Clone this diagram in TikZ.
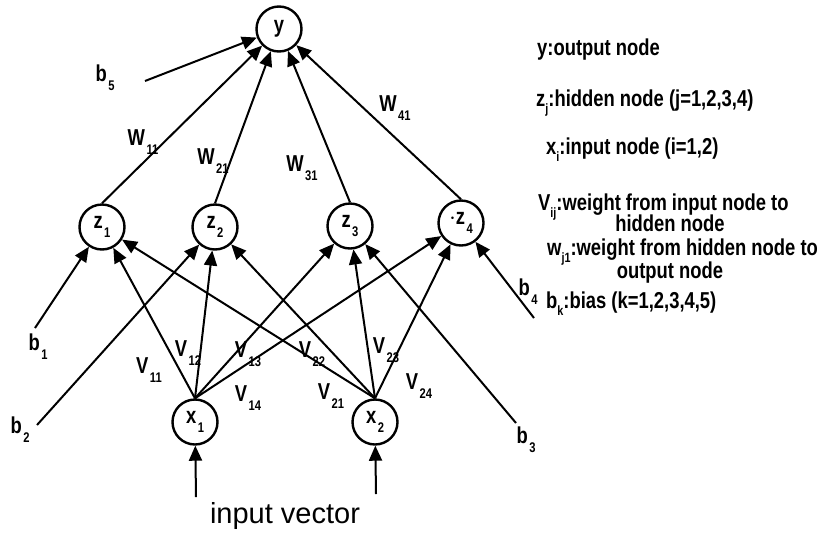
\documentclass[tikz,border=0pt]{standalone}
\usepackage{fontspec}
\setmainfont{Liberation Sans}
\newfontfamily\narrowb{Liberation Sans Bold}[FakeStretch=0.8]
\newfontfamily\ivfont{Liberation Sans}
\usetikzlibrary{arrows.meta}
\newcommand\lfont{\narrowb\fontsize{23}{25}\selectfont}
\newcommand\dfont{\narrowb\fontsize{23}{25}\selectfont}
\newcommand\lsb[1]{\raisebox{-0.32em}{\fontsize{13.5}{13.5}\selectfont #1}}
\newcommand\dsb[1]{\raisebox{-0.38em}{\fontsize{14}{14}\selectfont\kern1.5pt#1}}
\begin{document}
\begin{tikzpicture}[x=1pt,y=-1pt,
  neuron/.style={circle,draw,line width=2.4pt,minimum size=45pt,inner sep=0pt,font=\dfont},
  conn/.style={line width=2pt,-{Triangle[length=15pt,width=13pt]}},
  lbl/.style={font=\dfont,inner sep=0pt},
  leg/.style={font=\lfont,inner sep=0pt,anchor=base west}]
\fill[white] (0,0) rectangle (821,536);
\useasboundingbox (0,0) rectangle (821,536);

% nodes
\node[neuron] (y) at (279,29) {y};
\node[neuron] (z1) at (102,227) {z\dsb{1}};
\node[neuron] (z2) at (215,227) {z\dsb{2}};
\node[neuron] (z3) at (350,226) {z\dsb{3}};
\node[neuron] (z4) at (461,223) {$\cdot$z\dsb{4}};
\node[neuron] (x1) at (195,422) {x\dsb{1}};
\node[neuron] (x2) at (375,422) {x\dsb{2}};

% free ends
\coordinate (b1s) at (35,328);
\coordinate (b2s) at (37,425);
\coordinate (b3s) at (516,423);
\coordinate (b4s) at (534,318);
\coordinate (b5s) at (145,81);
\coordinate (in1) at (196,497);
\coordinate (in2) at (376,494);

% connectors
\foreach \i in {1,...,4} \draw[conn] (z\i.north) -- (y);
\draw[conn] (b5s) -- (y);
\foreach \i in {1,2} \foreach \j in {1,...,4} \draw[conn] (x\i.north) -- (z\j);
\draw[conn] (b1s) -- (z1);
\draw[conn] (b2s) -- (z2);
\draw[conn] (b3s) -- (z3);
\draw[conn] (b4s) -- (z4);
\draw[conn] (in1) -- (x1);
\draw[conn] (in2) -- (x2);

% labels
\node[lbl] (lb5) at (105,78) {b\dsb{5}};
\node[lbl] (lw11) at (143,142) {W\dsb{11}};
\node[lbl] (lw21) at (213,161) {W\dsb{21}};
\node[lbl] (lw31) at (302,168) {W\dsb{31}};
\node[lbl] (lw41) at (395,108) {W\dsb{41}};
\node[lbl] (lb1) at (38,347) {b\dsb{1}};
\node[lbl] (lb2) at (20,430) {b\dsb{2}};
\node[lbl] (lb3) at (526,440) {b\dsb{3}};
\node[lbl] (lb4) at (528,292) {b\dsb{4}};
\node[lbl] (lv11) at (149,370) {V\dsb{11}};
\node[lbl] (lv12) at (188,353) {V\dsb{12}};
\node[lbl] (lv13) at (248,354) {V\dsb{13}};
\node[lbl] (lv22) at (312,354) {V\dsb{22}};
\node[lbl] (lv23) at (386,350) {V\dsb{23}};
\node[lbl] (lv14) at (248,398) {V\dsb{14}};
\node[lbl] (lv21) at (331,396) {V\dsb{21}};
\node[lbl] (lv24) at (419,386) {V\dsb{24}};
\node[inner sep=0pt,font=\ivfont\fontsize{29}{31}\selectfont] (iv) at (285,516) {input vector};

% legend
\node[leg] (l1) at (537,55) {y:output node};
\node[leg] (l2) at (536,106) {z\lsb{j}:hidden node (j=1,2,3,4)};
\node[leg] (l3) at (546,154) {x\lsb{i}:input node (i=1,2)};
\node[leg] (l4) at (538,210) {V\lsb{ij}:weight from input node to};
\node[leg,anchor=base] (l5) at (670,231) {hidden node};
\node[leg] (l6) at (547,255) {w\lsb{j1}:weight from hidden node to};
\node[leg,anchor=base] (l7) at (670,278) {output node};
\node[leg] (l8) at (546,308) {b\lsb{k}:bias (k=1,2,3,4,5)};
\end{tikzpicture}
\end{document}
